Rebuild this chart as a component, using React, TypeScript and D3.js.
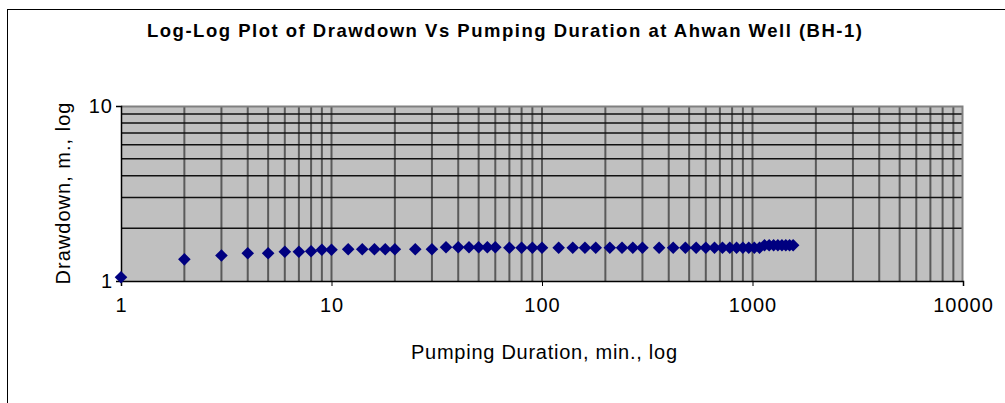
import { useEffect, useRef } from "react";
import * as d3 from "d3";

// pumping duration (min) and drawdown (m)
const minutes = [
  1, 2, 3, 4, 5, 6, 7, 8, 9, 10, 12, 14, 16, 18, 20, 25, 30, 35, 40, 45, 50, 55, 60,
  70, 80, 90, 100, 120, 140, 160, 180, 210, 240, 270, 300, 360, 420, 480, 540, 600,
  660, 720, 780, 840, 900, 960, 1020, 1080, 1140, 1200, 1260, 1320, 1380, 1440, 1500, 1560,
];
const drawdown = [
  1.05, 1.33, 1.4, 1.44, 1.44, 1.47, 1.47, 1.48, 1.51, 1.51, 1.52, 1.52, 1.52, 1.52, 1.52, 1.52, 1.52, 1.56, 1.56, 1.56, 1.56, 1.56, 1.56,
  1.55, 1.55, 1.55, 1.55, 1.55, 1.55, 1.55, 1.55, 1.55, 1.55, 1.55, 1.55, 1.55, 1.55, 1.55, 1.55, 1.55,
  1.55, 1.55, 1.55, 1.55, 1.55, 1.55, 1.55, 1.55, 1.6, 1.6, 1.6, 1.6, 1.6, 1.6, 1.6, 1.6,
];
const xTicks = [1, 10, 100, 1000, 10000];
const yTicks = [1, 10];

const title = "Log-Log Plot of Drawdown Vs Pumping Duration at Ahwan Well (BH-1)";
const xTitle = "Pumping Duration, min., log";
const yTitle = "Drawdown, m., log";

export default function App() {
  const ref = useRef<SVGSVGElement>(null);

  useEffect(() => {
    const svg = d3.select(ref.current);
    svg.selectAll("*").remove();
    const font = "Arial, 'Liberation Sans', sans-serif";
    const margin = { left: 121, top: 106, right: 42, bottom: 122 };
    const width = 1005, height = 403;
    const innerW = width - margin.left - margin.right;
    const innerH = height - margin.top - margin.bottom;

    // outer chart frame
    svg.append("rect")
      .attr("x", 7.5).attr("y", 9.5)
      .attr("width", 1010).attr("height", 410)
      .attr("fill", "#fff").attr("stroke", "#000");

    const x = d3.scaleLog().domain([1, 10000]).range([0, innerW]);
    const y = d3.scaleLog().domain([1, 10]).range([innerH, 0]);

    const g = svg.append("g").attr("transform", `translate(${margin.left},${margin.top})`);

    g.append("rect").attr("width", innerW).attr("height", innerH).attr("fill", "#c0c0c0");

    // vertical grid (every 1..9 in each decade)
    const xGrid = x.ticks().filter(v => v > 1 && v < 10000);
    g.selectAll(".vgrid").data(xGrid).join("line")
      .attr("x1", d => x(d)).attr("x2", d => x(d))
      .attr("y1", 0).attr("y2", innerH)
      .attr("stroke", "#5a5a5a").attr("stroke-width", 2);

    const yGrid = y.ticks().filter(v => v > 1 && v < 10);
    g.selectAll(".hgrid").data(yGrid).join("line")
      .attr("x1", 0).attr("x2", innerW)
      .attr("y1", d => y(d)).attr("y2", d => y(d))
      .attr("stroke", "#111").attr("stroke-width", 1.5);

    // frame top/right
    g.append("path")
      .attr("d", `M0,0.5H${innerW - 0.5}V${innerH}`)
      .attr("fill", "none").attr("stroke", "#808080").attr("stroke-width", 2);

    // axes
    const xAxis = d3.axisBottom(x).tickValues(xTicks).tickSize(5).tickFormat(d3.format("d"));
    const gx = g.append("g").attr("transform", `translate(0,${innerH})`).call(xAxis);
    gx.select(".domain").attr("stroke", "#000").attr("stroke-width", 1.5);
    gx.selectAll(".tick line").attr("stroke", "#000");
    gx.selectAll(".tick text").attr("font-family", font).attr("font-size", 20)
      .attr("letter-spacing", 1).attr("fill", "#000").attr("y", 13).attr("dy", "0.9em");

    const yAxis = d3.axisLeft(y).tickValues(yTicks).tickSize(5).tickFormat(d3.format("d"));
    const gy = g.append("g").call(yAxis);
    gy.select(".domain").attr("stroke", "#000").attr("stroke-width", 1.5);
    gy.selectAll(".tick line").attr("stroke", "#000");
    gy.selectAll(".tick text").attr("font-family", font).attr("font-size", 20)
      .attr("letter-spacing", 1).attr("fill", "#000").attr("x", -8);

    // points
    const r = 6.3;
    g.selectAll(".pt").data(minutes).join("path")
      .attr("d", `M0,${-r}L${r},0L0,${r}L${-r},0Z`)
      .attr("transform", (d, i) => `translate(${x(d)},${y(drawdown[i])})`)
      .attr("fill", "#000080");

    // titles
    svg.append("text")
      .attr("x", 504.5).attr("y", 37)
      .attr("text-anchor", "middle")
      .attr("font-family", font).attr("font-weight", "bold").attr("font-size", 18.5)
      .attr("textLength", 715).attr("lengthAdjust", "spacing")
      .text(title);

    svg.append("text")
      .attr("x", 544).attr("y", 359)
      .attr("text-anchor", "middle")
      .attr("font-family", font).attr("font-size", 20)
      .attr("textLength", 266).attr("lengthAdjust", "spacing")
      .text(xTitle);

    svg.append("text")
      .attr("transform", `translate(70,${margin.top + innerH / 2}) rotate(-90)`)
      .attr("text-anchor", "middle")
      .attr("font-family", font).attr("font-size", 20)
      .attr("textLength", 182).attr("lengthAdjust", "spacing")
      .text(yTitle);
  }, []);

  return (
    <div style={{ position: "absolute", left: 0, top: 0 }}>
      <svg ref={ref} width={1005} height={403} style={{ display: "block" }} />
    </div>
  );
}
